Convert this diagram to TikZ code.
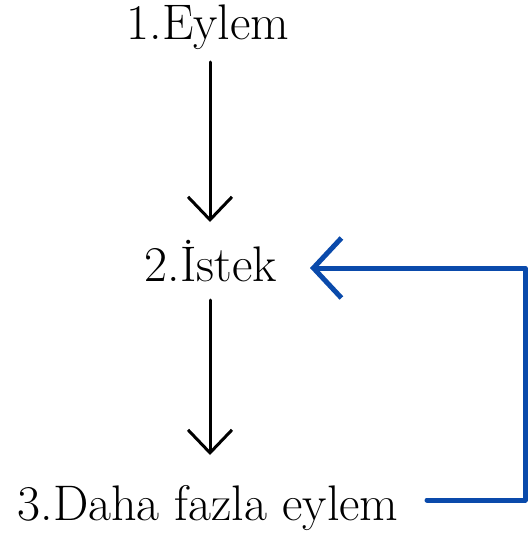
\documentclass[tikz,border=0pt]{standalone}
\usepackage{fontspec}
\setmainfont{Latin Modern Roman}
\usetikzlibrary{arrows.meta}
\definecolor{loopblue}{HTML}{0A4AAB}
\begin{document}
\begin{tikzpicture}[x=1pt,y=-1pt,
  lbl/.style={font=\fontsize{50}{58}\selectfont, inner sep=0pt, anchor=base},
  flow/.style={line width=3pt, black, line cap=round, -{Straight Barb[length=23pt,width=44pt,line width=3pt]}},
  loop/.style={line width=5pt, loopblue, line cap=round, line join=round, -{Straight Barb[length=28pt,width=60pt,line width=5pt]}}]
\useasboundingbox (0,0) rectangle (530,540);
\node[lbl] (e1) at (208,40) {1.Eylem};
\node[lbl] (e2) at (211,281) {2.İstek};
\node[lbl] (e3) at (208,520) {3.Daha fazla eylem};
\coordinate (s1) at (210,62);
\coordinate (t1) at (210,222);
\coordinate (s2) at (210,300);
\coordinate (t2) at (210,455);
\draw[flow] (s1) -- (t1);
\draw[flow] (s2) -- (t2);
\coordinate (b0) at (427,500);
\coordinate (c1) at (525,500);
\coordinate (c2) at (525,268);
\coordinate (bt) at (310,268);
\draw[loop] (b0) -- (c1) -- (c2) -- (bt);
\end{tikzpicture}
\end{document}
